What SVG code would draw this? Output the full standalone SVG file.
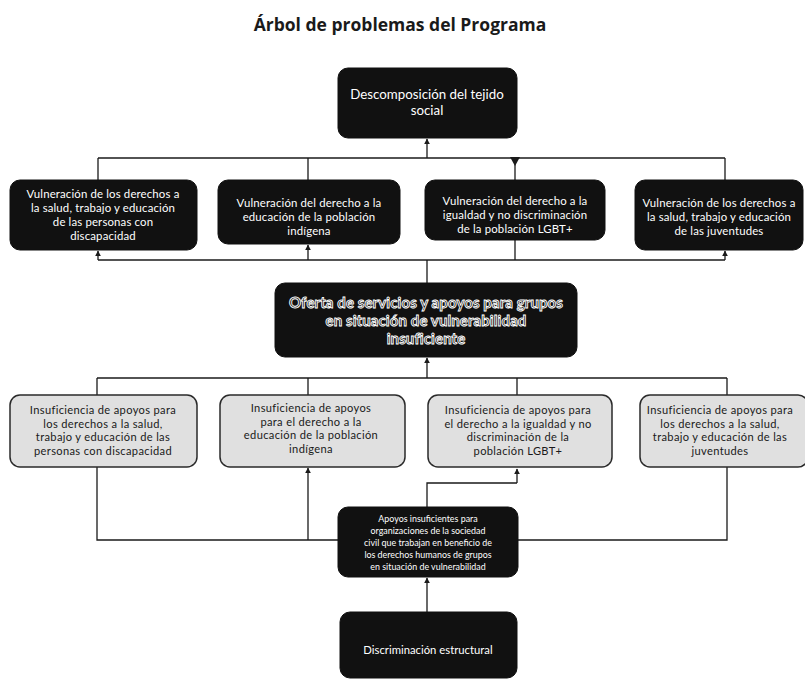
<svg xmlns="http://www.w3.org/2000/svg" width="805" height="680" viewBox="0 0 805 680">
<style>
.title{font-family:"Open Sans","Liberation Sans",sans-serif;font-weight:700;font-size:17.5px;fill:#1a1a1a}
.dark{fill:#111;stroke:#111;stroke-width:1}
.light{fill:#e0e0e0;stroke:#2a2a2a;stroke-width:1.5}
.wt{font-family:"Lato","Noto Sans","Liberation Sans",sans-serif;fill:#fff;text-anchor:middle}
.ef{font-size:11.4px;letter-spacing:0.15px}
.bt{font-family:"Lato","Noto Sans","Liberation Sans",sans-serif;fill:#1a1a1a;text-anchor:middle;font-size:11.1px;letter-spacing:0.35px}
.ol{font-family:"Lato","Noto Sans","Liberation Sans",sans-serif;fill:#111;stroke:#fff;stroke-width:0.9;text-anchor:middle;font-size:15px;font-weight:700;letter-spacing:0.1px}
.ln{fill:none;stroke:#1a1a1a;stroke-width:1.3}
</style>
<defs>
<marker id="ah" viewBox="0 0 10 10" refX="9" refY="5" markerWidth="6" markerHeight="6" orient="auto" markerUnits="userSpaceOnUse">
<path d="M0,0 L10,5 L0,10 z" fill="#1a1a1a"/>
</marker>
</defs>
<rect width="805" height="680" fill="#fff"/>
<text class="title" x="400" y="31" text-anchor="middle">Árbol de problemas del Programa</text>

<g id="connectors">
<line class="ln" x1="427" y1="158" x2="427" y2="139" marker-end="url(#ah)"/>
<line class="ln" x1="98" y1="158" x2="725" y2="158"/>
<line class="ln" x1="98" y1="158" x2="98" y2="180"/>
<line class="ln" x1="308" y1="158" x2="308" y2="180"/>
<line class="ln" x1="515" y1="158" x2="515" y2="180"/>
<path d="M510,157 L520,157 L515,166 z" fill="#1a1a1a"/>
<line class="ln" x1="725" y1="158" x2="725" y2="180"/>

<line class="ln" x1="98" y1="260" x2="725" y2="260"/>
<line class="ln" x1="98" y1="260" x2="98" y2="251" marker-end="url(#ah)"/>
<line class="ln" x1="308" y1="260" x2="308" y2="245" marker-end="url(#ah)"/>
<line class="ln" x1="515" y1="260" x2="515" y2="240"/>
<line class="ln" x1="725" y1="260" x2="725" y2="251" marker-end="url(#ah)"/>
<line class="ln" x1="427" y1="260" x2="427" y2="283"/>

<line class="ln" x1="427" y1="378" x2="427" y2="358" marker-end="url(#ah)"/>
<line class="ln" x1="97" y1="378" x2="727" y2="378"/>
<line class="ln" x1="97" y1="378" x2="97" y2="395"/>
<line class="ln" x1="308" y1="378" x2="308" y2="395"/>
<line class="ln" x1="517" y1="378" x2="517" y2="395"/>
<line class="ln" x1="727" y1="378" x2="727" y2="395"/>

<polyline class="ln" points="97,467 97,540 338,540"/>
<line class="ln" x1="308" y1="540" x2="308" y2="468" marker-end="url(#ah)"/>
<polyline class="ln" points="727,467 727,540 518,540"/>
<line class="ln" x1="517" y1="483" x2="517" y2="469" marker-end="url(#ah)"/>
<polyline class="ln" points="517,483 427,483 427,507"/>
<line class="ln" x1="427" y1="612" x2="427" y2="578" marker-end="url(#ah)"/>
</g>

<g id="top">
<rect class="dark" x="338" y="68" width="179" height="70" rx="10"/>
<text class="wt" font-size="13.3" x="427" y="99">Descomposición del tejido</text>
<text class="wt" font-size="13.3" x="427" y="115">social</text>
</g>

<g id="efecto1">
<rect class="dark" x="10" y="180" width="187" height="70" rx="10"/>
<text class="wt ef" x="103" y="198">Vulneración de los derechos a</text>
<text class="wt ef" x="103" y="212">la salud, trabajo y educación</text>
<text class="wt ef" x="103" y="226">de las personas con</text>
<text class="wt ef" x="103" y="240">discapacidad</text>
</g>

<g id="efecto2">
<rect class="dark" x="218" y="180" width="182" height="64" rx="10"/>
<text class="wt ef" x="309" y="207">Vulneración del derecho a la</text>
<text class="wt ef" x="309" y="221">educación de la población</text>
<text class="wt ef" x="309" y="235">indígena</text>
</g>

<g id="efecto3">
<rect class="dark" x="425" y="180" width="180" height="60" rx="10"/>
<text class="wt ef" x="515" y="205">Vulneración del derecho a la</text>
<text class="wt ef" x="515" y="219">igualdad y no discriminación</text>
<text class="wt ef" x="515" y="233">de la población LGBT+</text>
</g>

<g id="efecto4">
<rect class="dark" x="635" y="180" width="168" height="70" rx="10"/>
<text class="wt ef" x="719" y="207">Vulneración de los derechos a</text>
<text class="wt ef" x="719" y="221">la salud, trabajo y educación</text>
<text class="wt ef" x="719" y="235">de las juventudes</text>
</g>

<g id="central">
<rect class="dark" x="275" y="283" width="302" height="74" rx="10"/>
<text class="ol" x="426" y="308">Oferta de servicios y apoyos para grupos</text>
<text class="ol" x="426" y="326">en situación de vulnerabilidad</text>
<text class="ol" x="426" y="344">insuficiente</text>
</g>

<g id="causa1">
<rect class="light" x="10" y="395" width="187" height="72" rx="10"/>
<text class="bt" x="103" y="414">Insuficiencia de apoyos para</text>
<text class="bt" x="103" y="427.5">los derechos a la salud,</text>
<text class="bt" x="103" y="441">trabajo y educación de las</text>
<text class="bt" x="103" y="454.5">personas con discapacidad</text>
</g>

<g id="causa2">
<rect class="light" x="220" y="395" width="185" height="72" rx="10"/>
<text class="bt" x="311" y="412">Insuficiencia de apoyos</text>
<text class="bt" x="311" y="425.5">para el derecho a la</text>
<text class="bt" x="311" y="439">educación de la población</text>
<text class="bt" x="311" y="452.5">indígena</text>
</g>

<g id="causa3">
<rect class="light" x="428" y="395" width="184" height="72" rx="10"/>
<text class="bt" x="518" y="414">Insuficiencia de apoyos para</text>
<text class="bt" x="518" y="427.5">el derecho a la igualdad y no</text>
<text class="bt" x="518" y="441">discriminación de la</text>
<text class="bt" x="518" y="454.5">población LGBT+</text>
</g>

<g id="causa4">
<rect class="light" x="640" y="395" width="168" height="72" rx="10"/>
<text class="bt" x="720" y="414">Insuficiencia de apoyos para</text>
<text class="bt" x="720" y="427.5">los derechos a la salud,</text>
<text class="bt" x="720" y="441">trabajo y educación de las</text>
<text class="bt" x="720" y="454.5">juventudes</text>
</g>

<g id="apoyos">
<rect class="dark" x="338" y="507" width="180" height="70" rx="10"/>
<text class="wt" font-size="8.9" x="428" y="522">Apoyos insuficientes para</text>
<text class="wt" font-size="8.9" x="428" y="534">organizaciones de la sociedad</text>
<text class="wt" font-size="8.9" x="428" y="546">civil que trabajan en beneficio de</text>
<text class="wt" font-size="8.9" x="428" y="558">los derechos humanos de grupos</text>
<text class="wt" font-size="8.9" x="428" y="570">en situación de vulnerabilidad</text>
</g>

<g id="discriminacion">
<rect class="dark" x="340" y="612" width="177" height="66" rx="10"/>
<text class="wt" font-size="11.3" x="428" y="654">Discriminación estructural</text>
</g>
</svg>
